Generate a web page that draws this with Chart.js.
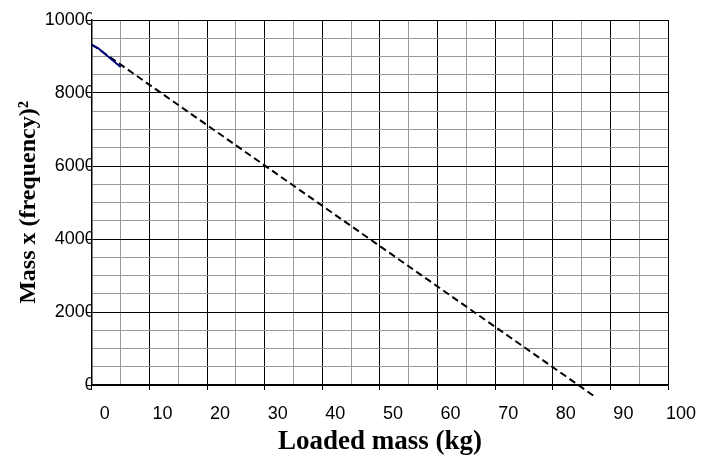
<!DOCTYPE html>
<html>
<head>
<meta charset="utf-8">
<script src="https://cdn.jsdelivr.net/npm/chart.js@4.4.1/dist/chart.umd.min.js"></script>
<style>
  html, body { margin: 0; padding: 0; background: #fff; }
</style>
</head>
<body>
<canvas id="massChart" width="716" height="458"></canvas>
<script>
// measured points (blue line)
const loadedMass = [0, 1, 5];
const massFreqSq = [9310, 9240, 8710];

// trendline end points (dashed)
const trendMass = [0, 87.4];
const trendValue = [9330, -330];

// axis range / steps
const xRange = [0, 100];
const yRange = [0, 10000];
const xMajor = 10, xMinor = 5;
const yMajor = 2000, yMinor = 500;

const toPoints = (xs, ys) => xs.map((x, i) => ({ x: x, y: ys[i] }));

const isMajor = (v, step) => Math.abs(v % step) < 1e-6;

const ctx = document.getElementById('massChart').getContext('2d');
const massChart = new Chart(ctx, {
  type: 'scatter',
  data: {
    datasets: [
      {
        label: 'Measured',
        data: toPoints(loadedMass, massFreqSq),
        showLine: true,
        borderColor: '#000080',
        borderWidth: 2,
        pointRadius: 0,
        tension: 0,
        order: 1
      },
      {
        label: 'Trend',
        data: toPoints(trendMass, trendValue),
        showLine: true,
        borderColor: '#000',
        borderWidth: 2,
        borderDash: [7, 4],
        pointRadius: 0,
        clip: false,
        order: 2
      }
    ]
  },
  options: {
    responsive: false,
    animation: false,
    layout: {
      padding: { left: 12, right: 48, top: 20, bottom: 0 }
    },
    scales: {
      x: {
        type: 'linear',
        min: xRange[0],
        max: xRange[1],
        border: { color: '#000', width: 1.5 },
        grid: {
          color: c => isMajor(c.tick.value, xMajor) ? '#000' : '#999',
          tickColor: c => isMajor(c.tick.value, xMajor) ? '#000' : 'rgba(0,0,0,0)',
          tickLength: 5,
          lineWidth: 1
        },
        ticks: {
          stepSize: xMinor,
          autoSkip: false,
          maxRotation: 0,
          padding: 13,
          labelOffset: 13,
          color: '#000',
          font: { family: 'Liberation Sans, Arial', size: 18 },
          callback: v => isMajor(v, xMajor) ? String(v) : ''
        },
        title: {
          display: true,
          text: 'Loaded mass (kg)',
          color: '#000',
          padding: { top: -12, bottom: 0 },
          font: { family: 'Liberation Serif, Times New Roman', size: 27, weight: 'bold' }
        }
      },
      y: {
        type: 'linear',
        min: yRange[0],
        max: yRange[1],
        border: { color: '#000', width: 1.5 },
        grid: {
          color: c => isMajor(c.tick.value, yMajor) ? '#000' : '#999',
          tickColor: c => isMajor(c.tick.value, yMajor) ? '#000' : 'rgba(0,0,0,0)',
          tickLength: 6,
          lineWidth: 1
        },
        ticks: {
          stepSize: yMinor,
          autoSkip: false,
          padding: -9,
          color: '#000',
          font: { family: 'Liberation Sans, Arial', size: 18 },
          callback: v => isMajor(v, yMajor) ? String(v) : ''
        },
        title: {
          display: true,
          text: 'Mass x (frequency)\u00B2',
          color: '#000',
          padding: { top: 2, bottom: 11 },
          font: { family: 'Liberation Serif, Times New Roman', size: 24, weight: 'bold' }
        }
      }
    },
    plugins: {
      legend: { display: false },
      tooltip: { enabled: false }
    }
  }
});
</script>
</body>
</html>
